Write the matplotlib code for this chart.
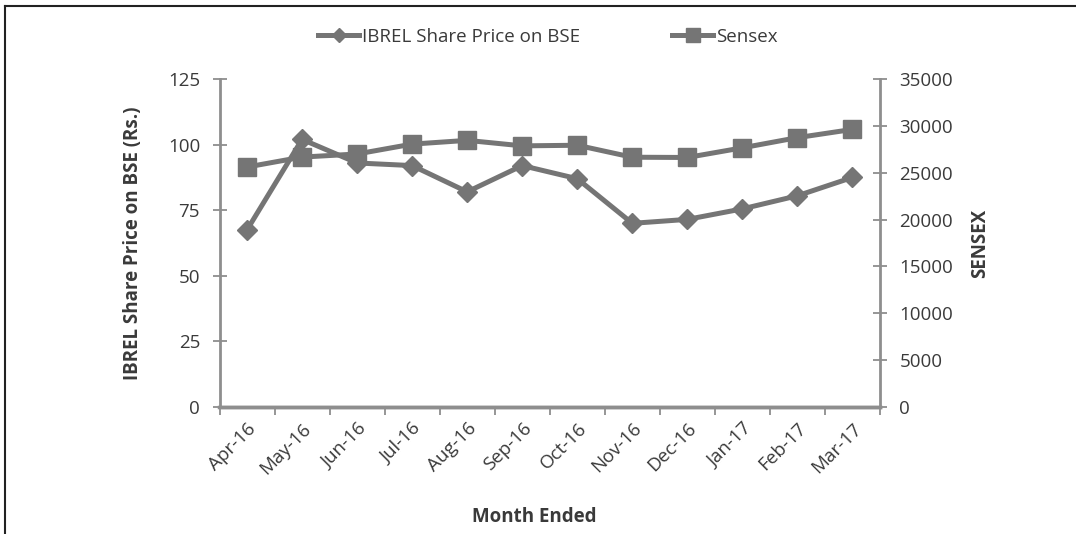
import matplotlib
matplotlib.use("Agg")
import matplotlib.pyplot as plt
import numpy as np
from matplotlib.lines import Line2D

months = ["Apr-16", "May-16", "Jun-16", "Jul-16", "Aug-16", "Sep-16",
          "Oct-16", "Nov-16", "Dec-16", "Jan-17", "Feb-17", "Mar-17"]
ibrel_price = [67.5, 102.0, 93.0, 92.0, 82.0, 92.0, 87.0, 70.0, 71.5, 75.5, 80.5, 87.5]
sensex = [25607, 26668, 26999, 28052, 28452, 27866, 27930, 26653, 26626, 27656, 28743, 29621]
left_ticks = [0, 25, 50, 75, 100, 125]
right_ticks = [0, 5000, 10000, 15000, 20000, 25000, 30000, 35000]

plt.rcParams['font.family'] = ['Open Sans', 'DejaVu Sans']
TXT = '#3a3a3a'
LINE = '#757575'
AX = '#8e8e8e'
FS = 13.5

W, H = 1076, 534
fig = plt.figure(figsize=(W / 100, H / 100), dpi=100)
ax = fig.add_axes([219.5 / W, 1 - 407 / H, (880 - 219.5) / W, (407 - 79) / H])
ax2 = ax.twinx()

x = np.arange(len(months))
ax.plot(x, ibrel_price, color=LINE, lw=3.6, marker='D', ms=10.5, mec=LINE, mfc=LINE,
        zorder=3, solid_joinstyle='round')
ax2.plot(x, sensex, color=LINE, lw=3.6, marker='s', ms=12.5, mec=LINE, mfc=LINE,
         zorder=3, solid_joinstyle='round')

ax.set_xlim(-0.5, len(months) - 0.5)
ax.set_ylim(0, 125)
ax2.set_ylim(0, 35000)
ax.set_yticks(left_ticks)
ax2.set_yticks(right_ticks)

ax.set_xticks(np.arange(-0.5, len(months)), minor=False)
ax.set_xticklabels([])
ax.set_xticks(x, minor=True)
ax.set_xticklabels(months, minor=True, rotation=45, ha='right', va='top',
                   rotation_mode='anchor', color=TXT, fontsize=FS)
ax.tick_params(axis='x', which='minor', length=0, pad=9)
ax.tick_params(axis='x', which='major', length=6, width=1.3, color=AX, direction='out')

ax.tick_params(axis='y', length=10, width=1.3, color=AX, direction='inout',
               labelsize=FS, labelcolor=TXT, pad=9)
ax2.tick_params(axis='y', length=10, width=1.3, color=AX, direction='inout',
                labelsize=FS, labelcolor=TXT, pad=9)

for a in (ax, ax2):
    a.spines['top'].set_visible(False)
    for s in ('left', 'right', 'bottom'):
        a.spines[s].set_color(AX)
        a.spines[s].set_linewidth(2)
    a.spines['bottom'].set_linewidth(2.5)
ax.spines['right'].set_visible(False)
ax2.spines['left'].set_visible(False)

ax.set_ylabel("IBREL Share Price on BSE (Rs.)", fontsize=FS, fontweight='bold',
              color=TXT, labelpad=18)
ax2.set_ylabel("SENSEX", fontsize=FS, fontweight='bold', color=TXT, labelpad=12)
fig.text(534 / W, 1 - 517 / H, "Month Ended", fontsize=FS, fontweight='bold',
         color=TXT, ha='center', va='center')

handles = [Line2D([], [], color=LINE, lw=3.6, marker='D', ms=7.5, mfc=LINE, mec=LINE),
           Line2D([], [], color=LINE, lw=3.6, marker='s', ms=9.5, mfc=LINE, mec=LINE)]
fig.legend(handles, ["IBREL Share Price on BSE", "Sensex"], ncol=2,
           loc='center', bbox_to_anchor=(548 / W, 1 - 37 / H), frameon=False,
           fontsize=FS, handlelength=2.2, handletextpad=0.15, columnspacing=4.9,
           labelcolor=TXT)

# frame lines (top and left)
fig.add_artist(Line2D([5 / W, 1], [1 - 6 / H, 1 - 6 / H], color='#222222', lw=1.5,
                      transform=fig.transFigure))
fig.add_artist(Line2D([5 / W, 5 / W], [0, 1 - 6 / H], color='#222222', lw=1.5,
                      transform=fig.transFigure))

fig.savefig("out.png", dpi=100, facecolor='white')
